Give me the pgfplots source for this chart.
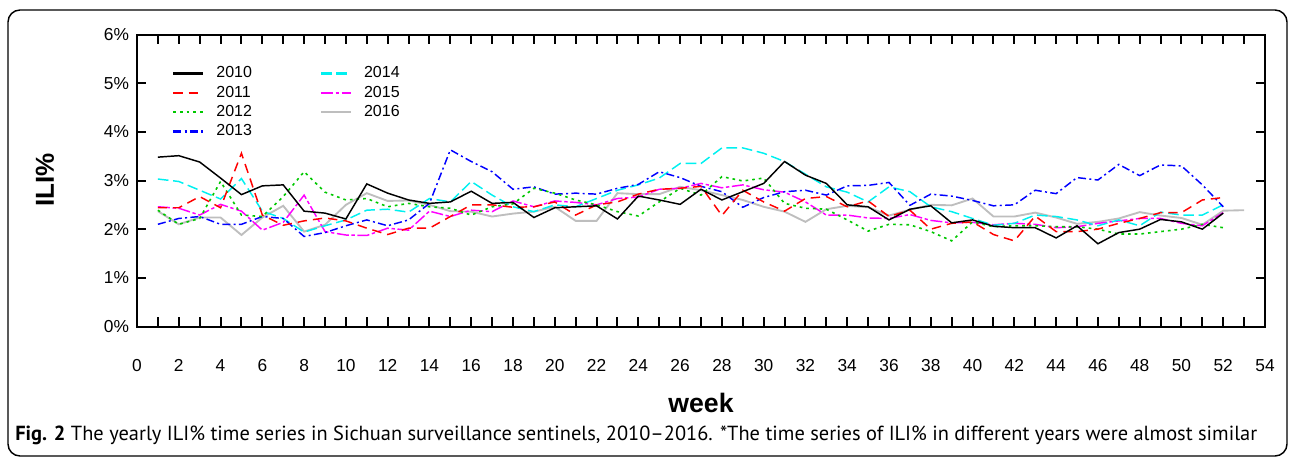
\documentclass[border=0pt]{standalone}
\usepackage{fontspec}
\setmainfont{Liberation Sans}
\newfontfamily\capfont{PT Sans}
\usepackage{pgfplots}
\pgfplotsset{compat=1.18}
\usepackage{pgfplotstable}
\definecolor{cgreen}{RGB}{0,200,0}
\definecolor{cgray}{RGB}{190,190,190}
\definecolor{cblue}{RGB}{0,0,255}
\definecolor{ccyan}{RGB}{0,240,240}
\definecolor{cmag}{RGB}{255,0,255}
\definecolor{cred}{RGB}{255,0,0}

\pgfplotstableread{
w y10 y11 y12 y13 y14 y15 y16
1 3.48 2.44 2.39 2.10 3.03 2.46 2.37
2 3.51 2.44 2.10 2.22 2.98 2.43 2.10
3 3.38 2.67 2.22 2.26 2.80 2.29 2.24
4 3.05 2.44 2.98 2.10 2.62 2.51 2.24
5 2.71 3.56 2.29 2.10 3.04 2.37 1.88
6 2.89 2.29 2.26 2.26 2.37 1.98 2.24
7 2.91 2.08 2.67 2.22 2.22 2.14 2.48
8 2.37 2.17 3.18 1.85 1.94 2.70 1.95
9 2.33 2.23 2.76 1.93 2.07 1.95 2.09
10 2.21 2.17 2.60 2.07 2.19 1.88 2.50
11 2.93 2.02 2.63 2.19 2.39 1.87 2.74
12 2.74 1.89 2.46 2.07 2.41 2.02 2.58
13 2.60 2.02 2.53 2.19 2.35 1.98 2.59
14 2.53 2.02 2.46 2.53 2.63 2.37 2.50
15 2.56 2.26 2.43 3.63 2.56 2.26 2.37
16 2.78 2.50 2.29 3.39 2.98 2.39 2.36
17 2.53 2.50 2.46 3.18 2.70 2.36 2.26
18 2.55 2.45 2.52 2.82 2.46 2.58 2.32
19 2.24 2.46 2.84 2.87 2.36 2.46 2.36
20 2.44 2.56 2.74 2.72 2.50 2.58 2.46
21 2.46 2.29 2.60 2.74 2.46 2.55 2.17
22 2.48 2.50 2.50 2.72 2.63 2.50 2.17
23 2.21 2.56 2.36 2.84 2.80 2.63 2.74
24 2.68 2.72 2.27 2.92 2.91 2.66 2.72
25 2.60 2.82 2.56 3.18 3.05 2.82 2.72
26 2.51 2.84 2.84 3.06 3.35 2.84 2.87
27 2.82 2.88 2.70 2.88 3.35 2.94 2.80
28 2.60 2.28 3.08 2.77 3.67 2.85 2.70
29 2.77 2.80 2.99 2.45 3.67 2.91 2.60
30 2.94 2.56 3.05 2.65 3.56 2.81 2.46
31 3.39 2.37 2.53 2.77 3.39 2.76 2.36
32 3.11 2.63 2.43 2.80 3.13 2.56 2.15
33 2.94 2.67 2.41 2.70 2.87 2.29 2.41
34 2.50 2.46 2.19 2.89 2.76 2.29 2.48
35 2.46 2.58 1.96 2.90 2.56 2.23 2.45
36 2.19 2.26 2.10 2.96 2.87 2.22 2.28
37 2.41 2.39 2.09 2.49 2.77 2.30 2.40
38 2.48 2.00 1.95 2.72 2.46 2.18 2.50
39 2.13 2.12 1.76 2.68 2.36 2.13 2.49
40 2.19 2.15 2.15 2.59 2.22 2.14 2.63
41 2.06 1.89 2.05 2.48 2.08 2.09 2.26
42 2.03 1.76 2.07 2.50 2.12 2.12 2.26
43 2.03 2.27 2.07 2.80 2.29 2.10 2.34
44 1.82 1.95 2.05 2.73 2.26 2.03 2.24
45 2.07 1.95 2.05 3.06 2.19 2.05 2.11
46 1.70 2.00 2.00 3.01 2.07 2.12 2.15
47 1.93 2.12 1.90 3.33 2.19 2.17 2.22
48 2.00 2.22 1.90 3.10 2.07 2.22 2.35
49 2.20 2.34 1.95 3.32 2.35 2.22 2.28
50 2.15 2.34 2.00 3.30 2.29 2.12 2.23
51 2.00 2.60 2.10 2.91 2.29 2.07 2.09
52 2.33 2.65 2.03 2.46 2.50 2.34 2.38
53 nan nan nan nan nan nan 2.39
}\data

\tikzset{
 s10/.style={black, line width=1.1pt},
 s11/.style={cred, line width=1.1pt, dash pattern=on 7pt off 4.5pt},
 s12/.style={cgreen, line width=1.2pt, dash pattern=on 2pt off 3pt},
 s13/.style={cblue, line width=1.1pt, dash pattern=on 6pt off 2.5pt on 1.5pt off 2.5pt},
 s14/.style={ccyan, line width=1.1pt, dash pattern=on 8pt off 3.5pt},
 s15/.style={cmag, line width=1.1pt, dash pattern=on 9pt off 2pt on 2.5pt off 2pt},
 s16/.style={cgray, line width=1.4pt},
}

\begin{document}
\begin{tikzpicture}
\begin{scope}[shift={(-102.75pt,244.875pt)}, x=0.75pt, y=-0.75pt]
\useasboundingbox (0,0) rectangle (1295,457);
\draw[line width=1.1pt, rounded corners=9pt] (8,10) rectangle (1287,456);
\node[rotate=90, font=\bfseries\fontsize{19.5}{21}\selectfont] at (45,180) {ILI\%};
\node[font=\bfseries\fontsize{20}{22}\selectfont] at (701,403) {week};
\node[anchor=west, inner sep=0pt] at (15,435) {\resizebox{931.5pt}{!}{\capfont\textbf{Fig. 2} The yearly ILI\% time series in Sichuan surveillance sentinels, 2010–2016. *The time series of ILI\% in different years were almost similar}};
\end{scope}
\begin{axis}[
 at={(0,0)}, anchor=south west,
 width=846pt, height=219pt, scale only axis,
 xmin=0, xmax=54, ymin=0, ymax=6,
 xtick={0,2,...,54}, minor x tick num=1,
 ytick={0,1,...,6},
 yticklabel={\pgfmathprintnumber{\tick}\%},
 /pgf/number format/assume math mode=true,
 tick align=inside,
 major tick length=7pt, minor tick length=7pt,
 axis line style={line width=1.5pt},
 every tick/.style={black, line width=1.5pt},
 every minor tick/.style={black, line width=1.5pt},
 tick label style={font=\fontsize{13}{14}\selectfont},
 xticklabel style={yshift=-21pt},
 yticklabel style={xshift=-2.5pt},
 legend columns=2,
 legend cell align=left,
 legend image code/.code={\draw[#1, line width=1.6pt] (0pt,0pt) -- (22.5pt,0pt);},
 legend style={draw=none, fill=none, at={(axis description cs:0.031,0.896)}, anchor=north west, inner sep=0pt,
   font=\fontsize{12}{13}\selectfont,
   nodes={inner sep=1pt, text height=8.5pt, text depth=2pt}, row sep=2pt,
   /tikz/every odd column/.append style={column sep=8pt},
   /tikz/every even column/.append style={column sep=50pt}},
]
\addplot[s16, forget plot] table[x=w, y=y16]{\data};
\addplot[s15, forget plot] table[x=w, y=y15]{\data};
\addplot[s14, forget plot] table[x=w, y=y14]{\data};
\addplot[s13, forget plot] table[x=w, y=y13]{\data};
\addplot[s12, forget plot] table[x=w, y=y12]{\data};
\addplot[s11, forget plot] table[x=w, y=y11]{\data};
\addplot[s10, forget plot] table[x=w, y=y10]{\data};
\addlegendimage{s10}\addlegendentry{2010}
\addlegendimage{s14}\addlegendentry{2014}
\addlegendimage{s11}\addlegendentry{2011}
\addlegendimage{s15}\addlegendentry{2015}
\addlegendimage{s12}\addlegendentry{2012}
\addlegendimage{s16}\addlegendentry{2016}
\addlegendimage{s13}\addlegendentry{2013}
\end{axis}
\end{tikzpicture}
\end{document}
